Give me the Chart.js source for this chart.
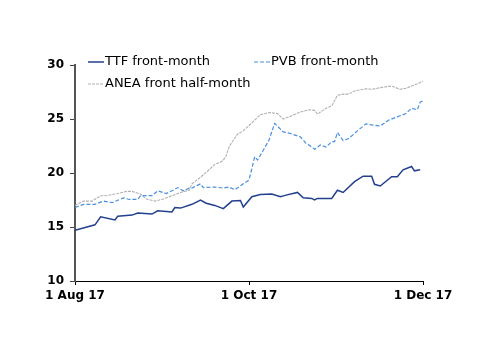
<!DOCTYPE html>
<html>
<head>
<meta charset="utf-8">
<script src="https://cdn.jsdelivr.net/npm/chart.js@4.4.1/dist/chart.umd.min.js"></script>
<style>
  html, body { margin: 0; padding: 0; background: #fff; }
  #wrap { width: 500px; height: 354px; }
</style>
</head>
<body>
<div id="wrap"><canvas id="grafico" width="500" height="354"></canvas></div>
<script>
// days counted from 1 Aug 17
const xTickDays = [0, 61, 122];
const xTickLabels = ['1 Aug 17', '1 Oct 17', '1 Dec 17'];

const ttfDays = [0, 7, 9, 14, 15, 20, 22, 27, 29, 34, 35, 37, 41, 44, 46, 49, 52, 55, 58, 59, 62, 65, 69, 72, 74, 78, 80, 83, 84, 85, 90, 92, 94, 98, 101, 104, 105, 107, 111, 113, 115, 118, 119, 121];
const ttfValues = [14.7, 15.2, 15.95, 15.65, 16.0, 16.1, 16.3, 16.2, 16.5, 16.4, 16.8, 16.75, 17.1, 17.5, 17.2, 17.0, 16.7, 17.4, 17.45, 16.85, 17.8, 18.0, 18.05, 17.8, 17.95, 18.2, 17.7, 17.65, 17.5, 17.65, 17.65, 18.4, 18.2, 19.2, 19.7, 19.7, 18.95, 18.8, 19.65, 19.65, 20.3, 20.6, 20.2, 20.3];

const pvbDays = [0, 3, 7, 10, 13, 17, 19, 22, 23, 27, 29, 32, 34, 36, 38, 40, 41, 44, 45, 49, 52, 54, 56, 59, 61, 62, 63, 64, 66, 68, 70, 73, 75, 79, 81, 82, 84, 86, 88, 90, 91, 92, 94, 96, 99, 102, 104, 107, 110, 113, 116, 118, 120, 121, 122];
const pvbValues = [16.8, 17.1, 17.1, 17.4, 17.25, 17.7, 17.55, 17.55, 17.9, 17.9, 18.35, 18.1, 18.35, 18.65, 18.35, 18.6, 18.6, 19.0, 18.65, 18.7, 18.6, 18.7, 18.45, 19.0, 19.35, 20.4, 21.5, 21.2, 22.1, 23.05, 24.6, 23.8, 23.7, 23.35, 22.75, 22.6, 22.2, 22.6, 22.4, 22.9, 22.9, 23.75, 23.0, 23.2, 23.9, 24.55, 24.45, 24.35, 24.9, 25.2, 25.5, 26.0, 25.85, 26.55, 26.7];

const aneaDays = [0, 3, 6, 9, 11, 15, 18, 20, 23, 25, 28, 31, 34, 37, 40, 41, 44, 47, 49, 51, 52, 53, 54, 55, 57, 59, 61, 63, 65, 68, 71, 73, 75, 79, 82, 84, 85, 88, 90, 92, 94, 96, 98, 102, 104, 108, 111, 114, 116, 119, 122];
const aneaValues = [17.0, 17.4, 17.4, 17.9, 17.9, 18.1, 18.3, 18.3, 18.05, 17.6, 17.4, 17.6, 17.9, 18.2, 18.4, 19.0, 19.6, 20.3, 20.8, 21.0, 21.2, 21.6, 22.4, 22.85, 23.6, 23.9, 24.4, 24.9, 25.4, 25.6, 25.5, 25.0, 25.2, 25.65, 25.85, 25.8, 25.45, 26.0, 26.2, 27.2, 27.3, 27.3, 27.6, 27.8, 27.75, 27.95, 28.05, 27.75, 27.85, 28.15, 28.5];

const pontos = (dias, valores) => dias.map((d, i) => ({ x: d, y: valores[i] }));

const fonte = 'Verdana, "DejaVu Sans", sans-serif';

// legenda desenhada por cima da área do gráfico, como no original
const legendaPlugin = {
    id: 'legendaManual',
    afterDraw(chart) {
        const ctx = chart.ctx;
        const posicoes = [
            { x: 88, y: 62 },
            { x: 254, y: 62 },
            { x: 88, y: 84 },
        ];
        ctx.save();
        ctx.font = '13px ' + fonte;
        ctx.textBaseline = 'middle';
        chart.data.datasets.forEach((ds, i) => {
            const p = posicoes[i];
            ctx.strokeStyle = ds.borderColor;
            ctx.lineWidth = ds.borderWidth;
            ctx.setLineDash(ds.borderDash || []);
            ctx.beginPath();
            ctx.moveTo(p.x, p.y);
            ctx.lineTo(p.x + 16, p.y);
            ctx.stroke();
            ctx.setLineDash([]);
            ctx.fillStyle = '#000';
            ctx.fillText(ds.label, p.x + 17, p.y);
        });
        ctx.restore();
    }
};

new Chart(document.getElementById('grafico'), {
    type: 'line',
    data: {
        datasets: [
            {
                label: 'TTF front-month',
                data: pontos(ttfDays, ttfValues),
                borderColor: '#23408e',
                borderWidth: 1.5,
                pointRadius: 0,
                tension: 0,
            },
            {
                label: 'PVB front-month',
                data: pontos(pvbDays, pvbValues),
                borderColor: '#4a8fe0',
                borderWidth: 1.2,
                borderDash: [4, 2],
                pointRadius: 0,
                tension: 0,
            },
            {
                label: 'ANEA front half-month',
                data: pontos(aneaDays, aneaValues),
                borderColor: '#b0b0b0',
                borderWidth: 1.1,
                borderDash: [3, 1],
                pointRadius: 0,
                tension: 0,
            },
        ],
    },
    options: {
        responsive: false,
        animation: false,
        layout: { padding: { top: 65, right: 77, left: 0, bottom: 0 } },
        plugins: { legend: { display: false }, tooltip: { enabled: false } },
        scales: {
            x: {
                type: 'linear',
                min: 0,
                max: 122,
                afterBuildTicks: (axis) => { axis.ticks = xTickDays.map(v => ({ value: v })); },
                afterFit: (axis) => { axis.height = 73; },
                ticks: {
                    callback: (v) => xTickLabels[xTickDays.indexOf(v)],
                    color: '#000',
                    font: { family: fonte, size: 12, weight: 'bold' },
                    maxRotation: 0,
                    padding: 4,
                },
                grid: { drawOnChartArea: false, drawTicks: true, tickLength: 4, color: '#000' },
                border: { color: '#000', width: 1 },
            },
            y: {
                min: 10,
                max: 30,
                afterFit: (axis) => { axis.width = 75; },
                ticks: {
                    stepSize: 5,
                    color: '#000',
                    font: { family: fonte, size: 12, weight: 'bold' },
                    padding: 6,
                },
                grid: { drawOnChartArea: false, drawTicks: true, tickLength: 5, color: '#444' },
                border: { color: '#555', width: 2 },
            },
        },
    },
    plugins: [legendaPlugin],
});
</script>
</body>
</html>
